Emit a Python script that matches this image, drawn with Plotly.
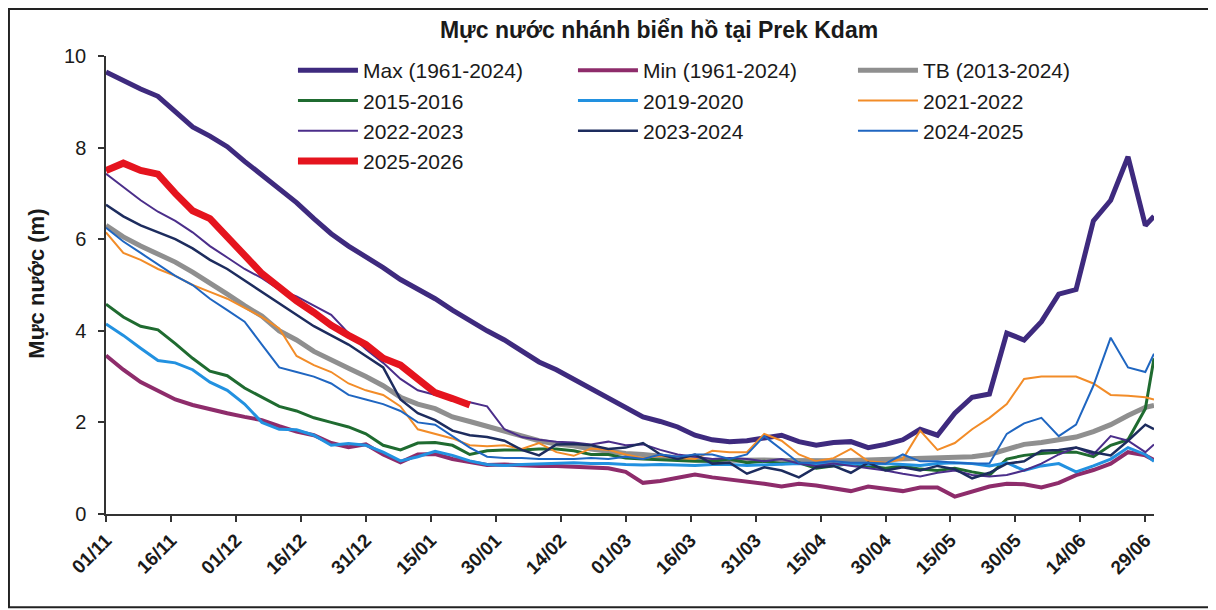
import plotly.graph_objects as go

# ---------------- data ----------------
# sampling days counted from 01/11 (day 0) to 30/06
DAYS = list(range(0, 241, 4)) + [242]

TICK_DAYS = list(range(0, 241, 15))
TICK_LABELS = ["01/11", "16/11", "01/12", "16/12", "31/12", "15/01", "30/01", "14/02",
               "01/03", "16/03", "31/03", "15/04", "30/04", "15/05", "30/05", "14/06", "29/06"]

MAX_1961_2024 = [9.65, 9.45, 9.28, 9.12, 8.8, 8.45, 8.25, 8.02, 7.7, 7.4,
                 7.1, 6.8, 6.45, 6.12, 5.85, 5.62, 5.38, 5.12, 4.92, 4.7,
                 4.45, 4.22, 4.0, 3.8, 3.55, 3.32, 3.15, 2.95, 2.72, 2.55,
                 2.35, 2.12, 2.02, 1.9, 1.72, 1.62, 1.58, 1.6, 1.66, 1.72,
                 1.58, 1.5, 1.56, 1.58, 1.45, 1.52, 1.62, 1.85, 1.72, 2.2,
                 2.55, 2.62, 3.95, 3.8, 4.2, 4.8, 4.9, 6.4, 6.85, 7.8,
                 6.3, 6.5]

MIN_1961_2024 = [3.46, 3.15, 2.88, 2.7, 2.5, 2.38, 2.28, 2.2, 2.12, 2.05,
                 1.92, 1.8, 1.72, 1.55, 1.46, 1.52, 1.3, 1.13, 1.3, 1.31,
                 1.2, 1.13, 1.07, 1.08, 1.06, 1.05, 1.05, 1.04, 1.02, 1.0,
                 0.92, 0.68, 0.72, 0.8, 0.86, 0.8, 0.76, 0.72, 0.66, 0.6,
                 0.66, 0.62, 0.55, 0.5, 0.6, 0.56, 0.5, 0.58, 0.58, 0.38,
                 0.5, 0.6, 0.66, 0.65, 0.58, 0.68, 0.85, 0.96, 1.1, 1.35,
                 1.28, 1.18]

TB_2013_2024 = [6.3, 6.05, 5.85, 5.68, 5.5, 5.28, 5.05, 4.8, 4.55, 4.32,
                4.0, 3.8, 3.55, 3.38, 3.18, 3.0, 2.8, 2.55, 2.4, 2.3,
                2.12, 2.02, 1.92, 1.8, 1.7, 1.6, 1.53, 1.49, 1.42, 1.36,
                1.32, 1.3, 1.26, 1.21, 1.19, 1.17, 1.18, 1.17, 1.18, 1.17,
                1.16, 1.15, 1.16, 1.17, 1.18, 1.18, 1.2, 1.2, 1.21, 1.22,
                1.25, 1.3, 1.42, 1.52, 1.56, 1.62, 1.68, 1.8, 1.95, 2.15,
                2.33, 2.37]

Y2015_2016 = [4.58, 4.3, 4.1, 4.02, 3.72, 3.4, 3.12, 3.02, 2.75, 2.55,
              2.35, 2.25, 2.1, 2.0, 1.9, 1.75, 1.5, 1.4, 1.55, 1.56,
              1.5, 1.3, 1.38, 1.4, 1.4, 1.42, 1.42, 1.38, 1.3, 1.3,
              1.22, 1.2, 1.18, 1.16, 1.15, 1.15, 1.2, 1.12, 1.15, 1.1,
              1.12, 1.0, 1.05, 1.1, 1.05, 1.0, 1.05, 0.98, 0.95, 1.0,
              0.92, 0.85, 1.2, 1.28, 1.32, 1.35, 1.35, 1.25, 1.5, 1.62,
              2.3, 3.4]

Y2019_2020 = [4.15, 3.9, 3.62, 3.35, 3.3, 3.15, 2.88, 2.7, 2.4, 2.0,
              1.85, 1.84, 1.72, 1.5, 1.54, 1.5, 1.35, 1.16, 1.25, 1.37,
              1.28, 1.16, 1.08, 1.06, 1.08, 1.09, 1.1, 1.12, 1.1, 1.1,
              1.08, 1.07, 1.08, 1.07, 1.06, 1.08, 1.08, 1.06, 1.07, 1.08,
              1.1, 1.08, 1.08, 1.1, 1.08, 1.1, 1.08, 1.06, 1.1, 1.12,
              1.1, 1.05, 1.12, 0.95, 1.05, 1.1, 0.92, 1.05, 1.2, 1.45,
              1.3, 1.15]

Y2021_2022 = [6.15, 5.7, 5.55, 5.35, 5.2, 5.0, 4.85, 4.7, 4.5, 4.3,
              4.05, 3.45, 3.25, 3.1, 2.85, 2.7, 2.6, 2.35, 1.85, 1.75,
              1.65, 1.5, 1.48, 1.5, 1.42, 1.55, 1.35, 1.27, 1.43, 1.4,
              1.3, 1.22, 1.27, 1.22, 1.2, 1.38, 1.35, 1.35, 1.75, 1.6,
              1.3, 1.15, 1.22, 1.42, 1.15, 1.12, 1.2, 1.82, 1.4, 1.55,
              1.85, 2.1, 2.4, 2.95, 3.0, 3.0, 3.0, 2.85, 2.6, 2.58,
              2.55, 2.5]

Y2022_2023 = [7.43, 7.15, 6.85, 6.6, 6.4, 6.15, 5.85, 5.6, 5.35, 5.15,
              4.9, 4.75, 4.55, 4.35, 3.95, 3.6, 3.3, 2.95, 2.7, 2.6,
              2.5, 2.44, 2.35, 1.85, 1.68, 1.62, 1.58, 1.56, 1.52, 1.58,
              1.5, 1.52, 1.4, 1.3, 1.25, 1.2, 1.22, 1.2, 1.15, 1.2,
              1.1, 1.05, 1.1, 1.05, 1.0, 0.95, 0.88, 0.82, 0.9, 0.95,
              0.85, 0.82, 0.85, 0.95, 1.1, 1.3, 1.45, 1.3, 1.7, 1.6,
              1.35, 1.52]

Y2023_2024 = [6.75, 6.5, 6.3, 6.15, 6.0, 5.8, 5.55, 5.35, 5.1, 4.85,
              4.6, 4.35, 4.1, 3.9, 3.7, 3.45, 3.2, 2.5, 2.2, 2.05,
              1.82, 1.72, 1.68, 1.6, 1.4, 1.28, 1.52, 1.53, 1.5, 1.42,
              1.45, 1.55, 1.3, 1.2, 1.3, 1.1, 1.12, 0.88, 1.02, 0.95,
              0.8, 1.02, 1.05, 0.9, 1.12, 0.95, 1.02, 0.95, 1.05, 0.98,
              0.78, 0.9, 1.1, 1.15, 1.38, 1.4, 1.45, 1.35, 1.28, 1.6,
              1.95, 1.85]

Y2024_2025 = [6.25, 5.95, 5.7, 5.45, 5.2, 5.0, 4.7, 4.45, 4.2, 3.7,
              3.2, 3.1, 3.0, 2.85, 2.6, 2.5, 2.4, 2.25, 2.0, 1.95,
              1.7, 1.45, 1.25, 1.22, 1.22, 1.2, 1.2, 1.2, 1.22, 1.2,
              1.25, 1.2, 1.3, 1.25, 1.3, 1.3, 1.2, 1.3, 1.7, 1.4,
              1.12, 1.12, 1.15, 1.12, 1.12, 1.1, 1.3, 1.15, 1.15, 1.12,
              1.1, 1.1, 1.75, 1.98, 2.1, 1.7, 1.95, 2.8, 3.85, 3.2,
              3.1, 3.5]

Y2025_2026 = [7.5, 7.66, 7.5, 7.42, 7.0, 6.62, 6.45, 6.05, 5.6, 5.25,
              4.95, 4.65, 4.4, 4.12, 3.9, 3.7, 3.4, 3.25, 2.95, 2.65,
              2.52, 2.38]

SERIES = [
    ("Max (1961-2024)", MAX_1961_2024, "#3E2A7E", 5),
    ("Min (1961-2024)", MIN_1961_2024, "#8E2C6B", 4),
    ("TB (2013-2024)", TB_2013_2024, "#8F8F8F", 5),
    ("2015-2016", Y2015_2016, "#1F6B30", 3),
    ("2019-2020", Y2019_2020, "#2291E0", 3),
    ("2021-2022", Y2021_2022, "#F28C28", 2),
    ("2022-2023", Y2022_2023, "#4B2E8A", 2),
    ("2023-2024", Y2023_2024, "#1D2C5E", 2.5),
    ("2024-2025", Y2024_2025, "#1F66C1", 2),
    ("2025-2026", Y2025_2026, "#E5141E", 7),
]

# ---------------- figure ----------------
FONT = "Liberation Sans, Arial, sans-serif"
fig = go.Figure()
for name, vals, color, width in SERIES:
    fig.add_trace(go.Scatter(
        x=DAYS[:len(vals)], y=vals, name=name, mode="lines",
        line=dict(color=color, width=width),
    ))

fig.update_layout(
    width=1216, height=610,
    margin=dict(l=98, r=70, t=48, b=104),
    paper_bgcolor="white", plot_bgcolor="white",
    font=dict(family=FONT, color="#1a1a1a"),
    title=dict(text="<b>Mực nước nhánh biển hồ tại Prek Kdam</b>",
               x=0.5354, xanchor="center", y=0.964, yanchor="middle",
               font=dict(size=23, family=FONT, color="#1a1a1a")),
    showlegend=True,
    legend=dict(orientation="h", x=0.1784, xanchor="left", y=1.013, yanchor="top",
                entrywidth=205, entrywidthmode="pixels", itemwidth=60,
                font=dict(size=21, family=FONT, color="#1a1a1a"),
                bgcolor="rgba(0,0,0,0)", traceorder="normal"),
)

fig.update_xaxes(range=[0, 242], tickmode="array", tickvals=TICK_DAYS,
                 ticktext=[f"<b>{t}</b>" for t in TICK_LABELS], tickangle=-45,
                 ticks="outside", ticklen=6, tickwidth=1.5, tickcolor="#333",
                 showline=True, linecolor="#333", linewidth=1.5,
                 showgrid=False, zeroline=False,
                 tickfont=dict(size=19, family=FONT, color="#1a1a1a"))
fig.update_yaxes(range=[0, 10], dtick=2, ticks="outside", ticklen=6, tickwidth=1.5,
                 tickcolor="#333", showline=True, linecolor="#333", linewidth=1.5,
                 showgrid=False, zeroline=False, ticklabelstandoff=8,
                 tickfont=dict(size=20, family=FONT, color="#1a1a1a"))

fig.add_annotation(text="<b>Mực nước (m)</b>", xref="paper", yref="paper",
                   x=-0.0658, y=0.503, xanchor="center", yanchor="middle",
                   textangle=-90, showarrow=False,
                   font=dict(size=22, family=FONT, color="#1a1a1a"))

# outer frame
fig.add_shape(type="rect", xref="paper", yref="paper",
              x0=-0.0926, x1=1.0534, y0=-0.2035, y1=1.1028,
              line=dict(color="#222", width=2), fillcolor="rgba(0,0,0,0)")

fig.write_html("out.html")
